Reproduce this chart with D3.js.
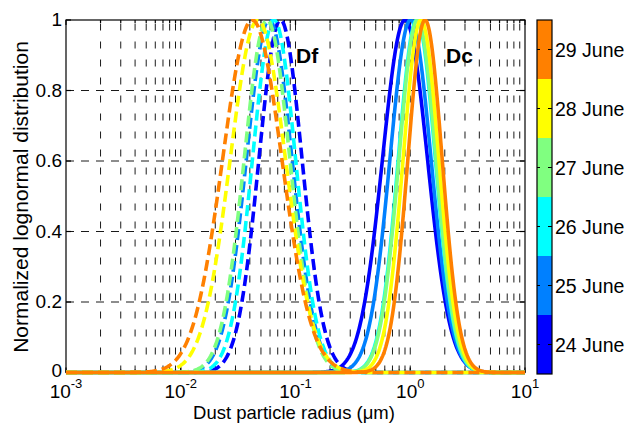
<!DOCTYPE html>
<html>
<head>
<meta charset="utf-8">
<script src="https://cdn.jsdelivr.net/npm/d3@7"></script>
<style>
  body { margin: 0; background: #fff; }
  text { font-family: "Liberation Sans", Arial, sans-serif; fill: #000; }
</style>
</head>
<body>
<div id="plot"></div>
<script>
// days and their colours (jet-like colorbar)
const days = ["24 June", "25 June", "26 June", "27 June", "28 June", "29 June"];
const dayColors = ["#0000ff", "#0080ff", "#00ffff", "#80ff80", "#ffff00", "#ff8000"];

// lognormal mode parameters (radius in um, geometric std)
const fineRadius = [0.074, 0.059, 0.065, 0.0565, 0.047, 0.042];
const fineSigma = [1.54, 1.58, 1.54, 1.58, 1.74, 1.81];
const coarseRadius = [0.90, 1.005, 1.14, 1.156, 1.24, 1.345];
const coarseSigma = [1.57, 1.51, 1.45, 1.45, 1.43, 1.41];

const yTicks = [0, 0.2, 0.4, 0.6, 0.8, 1];
const xMajor = [-3, -2, -1, 0, 1];

const W = 628, H = 423;
const margin = {top: 20, right: 103, bottom: 50.5, left: 66};
const width = W - margin.left - margin.right;
const height = H - margin.top - margin.bottom;

const svg = d3.select("#plot").append("svg")
    .attr("width", W).attr("height", H);

const x = d3.scaleLog().domain([1e-3, 10]).range([margin.left, margin.left + width]);
const y = d3.scaleLinear().domain([0, 1]).range([margin.top + height, margin.top]);

// minor positions 1..9 x 10^k
let minor = [];
for (let k = -3; k < 1; k++) for (let m = 1; m < 10; m++) minor.push(m * Math.pow(10, k));
minor.push(10);

// grid
const grid = svg.append("g");
grid.selectAll("line.vg")
    .data(minor.filter(v => v > 1e-3 && v < 10))
    .enter().append("line")
    .attr("x1", d => x(d)).attr("x2", d => x(d))
    .attr("y1", y(0)).attr("y2", y(1))
    .attr("stroke", "#000").attr("stroke-width", 0.9)
    .attr("stroke-dasharray", "7,11");
grid.selectAll("line.hg")
    .data(yTicks.filter(v => v > 0 && v < 1))
    .enter().append("line")
    .attr("x1", x(1e-3)).attr("x2", x(10))
    .attr("y1", d => y(d)).attr("y2", d => y(d))
    .attr("stroke", "#000").attr("stroke-width", 0.9)
    .attr("stroke-dasharray", "8,7");

// box and ticks
const ax = svg.append("g").attr("stroke", "#000").attr("stroke-width", 1.2);
ax.append("rect").attr("x", margin.left).attr("y", margin.top)
    .attr("width", width).attr("height", height).attr("fill", "none");
yTicks.forEach(v => {
    ax.append("line").attr("x1", x(1e-3)).attr("x2", x(1e-3) + 5).attr("y1", y(v)).attr("y2", y(v));
    ax.append("line").attr("x1", x(10)).attr("x2", x(10) - 5).attr("y1", y(v)).attr("y2", y(v));
});
minor.forEach(v => {
    const len = Number.isInteger(Math.log10(v)) ? 5 : 3;
    ax.append("line").attr("x1", x(v)).attr("x2", x(v)).attr("y1", y(0)).attr("y2", y(0) - len);
    ax.append("line").attr("x1", x(v)).attr("x2", x(v)).attr("y1", y(1)).attr("y2", y(1) + len);
});

// curves, drawn over the box like the original
svg.append("clipPath").attr("id", "clip").append("rect")
    .attr("x", margin.left).attr("y", margin.top - 1)
    .attr("width", width).attr("height", height + 4);

const rs = d3.range(0, 601).map(i => Math.pow(10, -3 + 4 * i / 600));
const logn = (r, rm, s) => Math.exp(-Math.pow(Math.log(r / rm), 2) / (2 * Math.pow(Math.log(s), 2)));
const line = d3.line().x(d => x(d[0])).y(d => y(d[1]));

const curves = svg.append("g").attr("clip-path", "url(#clip)");
days.forEach((d, i) => {
    curves.append("path")
        .datum(rs.map(r => [r, logn(r, coarseRadius[i], coarseSigma[i])]))
        .attr("d", line).attr("fill", "none")
        .attr("stroke", dayColors[i]).attr("stroke-width", 3.6);
    curves.append("path")
        .datum(rs.map(r => [r, logn(r, fineRadius[i], fineSigma[i])]))
        .attr("d", line).attr("fill", "none")
        .attr("stroke", dayColors[i]).attr("stroke-width", 3.6)
        .attr("stroke-dasharray", "11,5");
});

// tick labels
svg.selectAll("text.yt").data(yTicks).enter().append("text")
    .attr("x", margin.left - 4).attr("y", d => y(d))
    .attr("dy", d => d === 0 ? "0.22em" : "0.34em")
    .attr("text-anchor", "end").style("font-size", "19px")
    .text(d => d3.format("~g")(d));

// 10^k labels: base and exponent as two texts, centred together on the tick
xMajor.forEach(k => {
    const base = svg.append("text").attr("y", 398).style("font-size", "19px").text("10");
    const expo = svg.append("text").attr("y", 388).style("font-size", "13px").text(k);
    const wb = base.node().getComputedTextLength();
    const we = expo.node().getComputedTextLength();
    const x0 = x(Math.pow(10, k)) - (wb + we) / 2;
    base.attr("x", x0);
    expo.attr("x", x0 + wb);
});

svg.append("text").attr("x", 294).attr("y", 419).attr("text-anchor", "middle")
    .style("font-size", "18.5px").text("Dust particle radius (\u03bcm)");
svg.append("text").attr("transform", "translate(28,197) rotate(-90)")
    .attr("text-anchor", "middle").style("font-size", "21px")
    .text("Normalized lognormal distribution");

svg.append("text").attr("x", 296).attr("y", 63).style("font-size", "21px")
    .style("font-weight", "bold").text("Df");
svg.append("text").attr("x", 446).attr("y", 63).style("font-size", "21px")
    .style("font-weight", "bold").text("Dc");

// colorbar
const cb = d3.scaleBand().domain(days).range([374, 20]);
const cbx = 537, cbw = 15;
svg.selectAll("rect.cb").data(days).enter().append("rect")
    .attr("x", cbx).attr("y", d => cb(d)).attr("width", cbw).attr("height", cb.bandwidth())
    .attr("fill", (d, i) => dayColors[i]);
svg.append("rect").attr("x", cbx).attr("y", 20).attr("width", cbw).attr("height", 354)
    .attr("fill", "none").attr("stroke", "#000").attr("stroke-width", 1.2);
days.forEach(d => {
    const cy = cb(d) + cb.bandwidth() / 2;
    svg.append("line").attr("x1", cbx + cbw - 4).attr("x2", cbx + cbw).attr("y1", cy).attr("y2", cy)
        .attr("stroke", "#000");
    svg.append("line").attr("x1", cbx).attr("x2", cbx + 3).attr("y1", cy).attr("y2", cy)
        .attr("stroke", "#000");
    svg.append("text").attr("x", 555).attr("y", cy).attr("dy", "0.36em")
        .style("font-size", "19.5px").text(d);
});
</script>
</body>
</html>
